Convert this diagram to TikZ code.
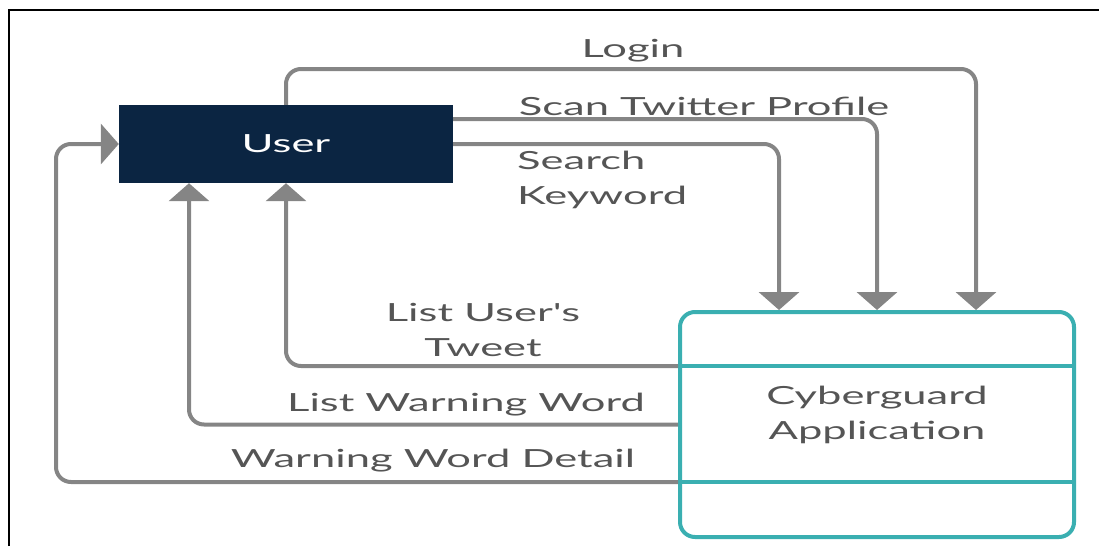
\documentclass[tikz,border=0pt]{standalone}
\usepackage{fontspec}
\setmainfont{Lato}[FakeStretch=1.74,Ligatures=TeXOff]
\usetikzlibrary{arrows.meta,positioning}
\definecolor{usernavy}{HTML}{0B2542}
\definecolor{appteal}{HTML}{3AAFB1}
\definecolor{flowgray}{HTML}{858585}
\definecolor{labelgray}{HTML}{555555}

\begin{document}
\begin{tikzpicture}[x=1pt,y=-1pt,
  flow/.style={draw=flowgray,line width=4pt,rounded corners=15pt,
    -{Triangle[width=40pt,length=18pt]}},
  lbl/.style={text=labelgray,inner sep=0pt,
    font=\fontsize{25}{35}\selectfont}]
  \useasboundingbox (0,0) rectangle (1099,546);
  \draw[line width=2.5pt] (9,546) -- (9,10) -- (1099,10);

  % the two boxes
  \node[fill=usernavy,minimum width=334pt,minimum height=78pt,inner sep=0pt,
    text=white,font=\fontsize{25}{30}\selectfont] (user) at (286,144) {User};
  \node[draw=appteal,line width=4pt,rounded corners=15pt,
    minimum width=394pt,minimum height=225pt] (app) at (877,424.5) {};
  \draw[appteal,line width=4pt] ([yshift=-56pt]app.north west) -- ([yshift=-56pt]app.north east);
  \draw[appteal,line width=4pt] ([yshift=57pt]app.south west) -- ([yshift=57pt]app.south east);
  \node[lbl,align=center] (apptext) at ([yshift=10pt]app.center) {Cyberguard\\Application};

  \coordinate (loginx) at (976,69);
  \coordinate (scanx) at (877,0);
  \coordinate (searchx) at (779,0);
  \coordinate (detx) at (56,0);

  % user -> application
  \draw[flow] (user.north) |- (loginx) -- (loginx |- app.north);
  \draw[flow] ([yshift=25pt]user.east) -| (scanx |- app.north);
  \draw[flow] (user.east) -| (searchx |- app.north);

  % application -> user
  \draw[flow] ([yshift=-56pt]app.north west) -| (user.south);
  \draw[flow] (app.west) -| ([xshift=-97pt]user.south);
  \draw[flow] ([yshift=57pt]app.south west) -| (detx |- user.west) -- (user.west);

  % labels
  \node[lbl] (login) at (633,51) {Login};
  \node[lbl] (scan) at (704,106) {Scan Twitter Profile};
  \node[lbl,anchor=west,align=left] (search) at (517,179.5) {Search\\Keyword};
  \node[lbl,align=center] (tweet) at (483,329.5) {List User's\\Tweet};
  \node[lbl] (warnlist) at (466,405) {List Warning Word};
  \node[lbl] (detail) at (433,461) {Warning Word Detail};
\end{tikzpicture}
\end{document}
